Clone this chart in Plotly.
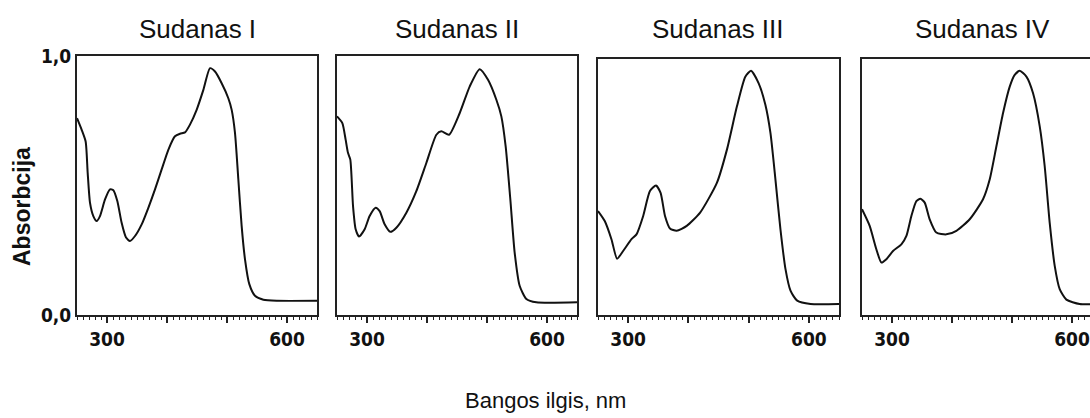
import plotly.graph_objects as go

# ---------------- data ----------------
titles = ["Sudanas I", "Sudanas II", "Sudanas III", "Sudanas IV"]

wl1 = [250, 257.8, 264.4, 267.8, 271.7, 277.2, 282.8, 288.3, 296.7, 305, 310.6, 317.2, 324.4, 331.7,
       338.3, 346.7, 357.8, 368.9, 380, 391.1, 402.2, 413.3, 421.7, 430, 438.3, 449.4, 460.6, 471.7,
       480, 491.1, 502.2, 507.8, 513.3, 518.9, 524.4, 530, 537.2, 546.7, 560.6, 582.8, 650]
abs1 = [0.760, 0.715, 0.670, 0.549, 0.433, 0.382, 0.363, 0.382, 0.446, 0.485, 0.482, 0.440, 0.356, 0.299,
        0.286, 0.305, 0.350, 0.414, 0.485, 0.562, 0.638, 0.690, 0.700, 0.705, 0.735, 0.792, 0.869, 0.953,
        0.940, 0.895, 0.837, 0.792, 0.703, 0.523, 0.344, 0.215, 0.119, 0.074, 0.059, 0.055, 0.055]

wl2 = [250, 258.9, 264.4, 268.3, 272.2, 276.7, 281.1, 286.7, 296.1, 304.4, 314.4, 321.1, 329.4, 338.9,
       348.9, 365.6, 382.2, 398.9, 415.6, 423.9, 436.7, 454.4, 471.1, 487.8, 501.7, 515.6, 523.9, 531.1,
       538.9, 546.1, 554.4, 565.6, 582.2, 650]
abs2 = [0.767, 0.741, 0.677, 0.626, 0.600, 0.421, 0.331, 0.303, 0.331, 0.382, 0.414, 0.401, 0.350, 0.321,
        0.337, 0.395, 0.478, 0.587, 0.696, 0.709, 0.696, 0.779, 0.882, 0.949, 0.908, 0.831, 0.767, 0.651,
        0.446, 0.241, 0.113, 0.062, 0.049, 0.049]

wl3 = [250, 261.2, 272.3, 281.7, 291.7, 305.6, 313.9, 325, 336.2, 346.2, 353.9, 361.2, 369.5, 380.6,
       397.3, 419.5, 447.3, 464, 480.6, 494.5, 504, 516.7, 527.8, 536.2, 544.5, 552.8, 561.2, 569.5,
       580.6, 602.8, 650]
abs3 = [0.406, 0.367, 0.296, 0.220, 0.250, 0.296, 0.315, 0.387, 0.484, 0.506, 0.477, 0.387, 0.338, 0.329,
        0.348, 0.400, 0.516, 0.646, 0.815, 0.931, 0.954, 0.905, 0.821, 0.711, 0.529, 0.335, 0.179, 0.095,
        0.056, 0.043, 0.043]

wl4 = [250, 262.8, 273.9, 282.3, 290.6, 301.7, 315.6, 324, 332.3, 340.6, 347.3, 354.5, 362.8, 373.9,
       390.6, 407.3, 429.5, 451.7, 462.8, 474, 485.1, 496.2, 504.5, 512.8, 524, 535.1, 546.2, 554.5,
       562.8, 571.2, 579.5, 590.6, 612.8, 650]
abs4 = [0.413, 0.348, 0.257, 0.205, 0.218, 0.250, 0.276, 0.309, 0.387, 0.445, 0.454, 0.439, 0.374, 0.322,
        0.315, 0.329, 0.374, 0.452, 0.529, 0.659, 0.789, 0.892, 0.938, 0.954, 0.931, 0.866, 0.737, 0.581,
        0.361, 0.192, 0.101, 0.060, 0.043, 0.043]

x_tickvals = [300, 400, 500, 600]
x_ticktext = ["300", "", "", "600"]
y_tickvals = [0, 1]
y_ticktext = ["0,0", "1,0"]
x_title = "Bangos ilgis, nm"
y_title = "Absorbcija"

series = [(wl1, abs1), (wl2, abs2), (wl3, abs3), (wl4, abs4)]

# ---------------- layout geometry ----------------
W, H = 1090, 418
x_px = [(77, 317), (337, 577), (598, 839), (862, 1090)]
y_top_px = [56, 56, 59, 59]
y_bot_px = 315
x_ranges = [[250, 650], [250, 650], [250, 650], [250, 250 + (1090 - 862) / 0.6]]

FRAME = "#222222"
LINE = "#111111"
TICKFONT = dict(family="Liberation Sans Narrow, DejaVu Sans Condensed, Arial Narrow, sans-serif",
                size=19, color="#111111", weight="bold")

fig = go.Figure()
for i, (wl, ab) in enumerate(series):
    n = "" if i == 0 else str(i + 1)
    fig.add_trace(go.Scatter(x=wl, y=ab, mode="lines",
                             line=dict(color=LINE, width=2, shape="spline", smoothing=0.6),
                             xaxis="x" + n, yaxis="y" + n, showlegend=False, hoverinfo="skip"))
    xd = [x_px[i][0] / W, x_px[i][1] / W]
    yd = [1 - y_bot_px / H, 1 - y_top_px[i] / H]
    fig.update_layout(**{
        "xaxis" + n: dict(domain=xd, range=x_ranges[i], anchor="y" + n, automargin=False,
                          showline=True, linecolor=FRAME, linewidth=2, mirror=True,
                          showgrid=False, zeroline=False,
                          tickmode="array", tickvals=x_tickvals, ticktext=x_ticktext,
                          ticks="outside", ticklen=6, tickwidth=2, tickcolor=FRAME,
                          ticklabeloverflow="allow",
                          minor=dict(dtick=10, ticks="outside", ticklen=3, tickwidth=1, tickcolor=FRAME,
                                     showgrid=False),
                          tickfont=TICKFONT),
        "yaxis" + n: dict(domain=yd, range=[0, 1], anchor="x" + n, automargin=False,
                          showline=True, linecolor=FRAME, linewidth=2,
                          mirror=(i < 3), showgrid=False, zeroline=False,
                          tickmode="array", tickvals=y_tickvals, ticktext=y_ticktext,
                          ticks="", showticklabels=(i == 0), tickfont=TICKFONT),
    })
    fig.add_annotation(text=titles[i], xref="paper", yref="paper",
                       x=(x_px[i][0] + 120) / W, y=1 - 29 / H, showarrow=False,
                       xanchor="center", yanchor="middle",
                       font=dict(family="Liberation Sans, Arial, sans-serif", size=26, color="#111111"))

fig.add_annotation(text=x_title, xref="paper", yref="paper", x=545 / W, y=1 - 400 / H,
                   showarrow=False, xanchor="center", yanchor="middle",
                   font=dict(family="Liberation Sans, Arial, sans-serif", size=22, color="#111111"))
fig.add_annotation(text=y_title, xref="paper", yref="paper", x=22 / W, y=1 - 207 / H,
                   showarrow=False, xanchor="center", yanchor="middle", textangle=-90,
                   font=dict(family="Liberation Sans, Arial, sans-serif", size=23, color="#111111",
                             weight="bold"))

fig.update_layout(width=W, height=H, margin=dict(l=0, r=0, t=0, b=0),
                  paper_bgcolor="white", plot_bgcolor="white")

fig.write_html("out.html")
